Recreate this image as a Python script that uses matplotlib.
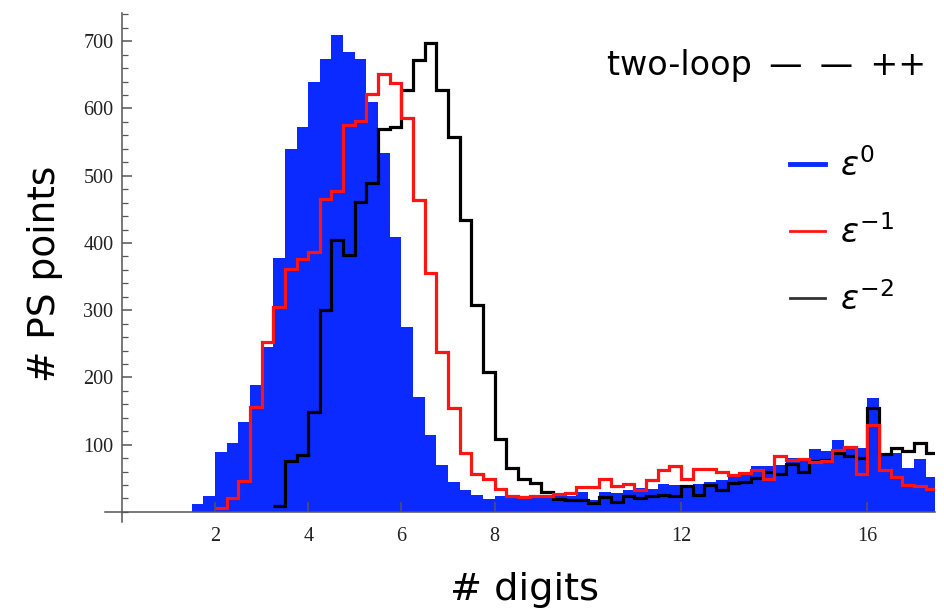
import numpy as np
import matplotlib.pyplot as plt
from matplotlib.lines import Line2D
from matplotlib.ticker import FixedLocator, MultipleLocator

# histogram bins: 0.25 digits wide, starting at 1.5
bin_start = 1.5
bin_width = 0.25

# counts per bin (epsilon^0, filled)
eps0 = [12, 24, 89, 103, 133, 189, 246, 378, 540, 573,
        640, 674, 709, 684, 674, 610, 534, 409, 275, 171,
        114, 70, 44, 32, 25, 19, 23, 20, 19, 20,
        23, 25, 23, 30, 18, 30, 28, 33, 35, 34,
        42, 40, 40, 42, 44, 48, 52, 60, 68, 68,
        70, 80, 80, 93, 90, 107, 97, 95, 169, 85,
        87, 66, 78, 52]

# epsilon^-1 (red outline)
eps_m1 = [0, 0, 6, 20, 46, 156, 252, 305, 362, 376,
          387, 466, 478, 575, 581, 622, 651, 638, 586, 464,
          355, 238, 155, 88, 56, 49, 34, 24, 22, 24,
          24, 27, 28, 37, 37, 49, 38, 41, 33, 48,
          63, 68, 49, 64, 64, 59, 55, 58, 62, 49,
          83, 77, 78, 74, 76, 92, 97, 56, 129, 62,
          52, 40, 38, 34]

# epsilon^-2 (black outline)
eps_m2 = [0, 0, 0, 0, 0, 0, 0, 9, 75, 84,
          148, 300, 404, 382, 461, 489, 570, 573, 627, 672,
          697, 628, 558, 434, 308, 208, 109, 65, 49, 43,
          29, 19, 18, 18, 14, 22, 15, 24, 20, 23,
          25, 24, 39, 25, 40, 33, 43, 45, 50, 60,
          57, 72, 60, 75, 77, 87, 83, 80, 154, 86,
          95, 90, 102, 87]

x_ticks = [2, 4, 6, 8, 12, 16]
y_ticks = [100, 200, 300, 400, 500, 600, 700]

blue = '#0a2aff'
red = '#ff1414'
axis_gray = '#555555'

edges = bin_start + bin_width * np.arange(len(eps0) + 1)

plt.rcParams['mathtext.fontset'] = 'dejavusans'

fig = plt.figure(figsize=(9.44, 6.11), dpi=100)
ax = fig.add_axes([105 / 944, 1 - 522 / 611, 830 / 944, 509 / 611])

ax.stairs(eps0, edges, fill=True, color=blue, lw=0)


def first_bin(vals):
    return next(i for i, v in enumerate(vals) if v > 0)


i2 = first_bin(eps_m2)
ax.stairs(eps_m2[i2:], edges[i2:], baseline=None, color='black', lw=2.3)
i1 = first_bin(eps_m1)
ax.stairs(eps_m1[i1:], edges[i1:], baseline=None, color=red, lw=2.3)

ax.set_xlim(-0.36, 17.45)
ax.set_ylim(-15, 742)

for s in ['top', 'right']:
    ax.spines[s].set_visible(False)
ax.spines['left'].set_position(('data', 0))
ax.spines['bottom'].set_position(('data', 0))
for s in ['left', 'bottom']:
    ax.spines[s].set_color(axis_gray)
    ax.spines[s].set_linewidth(1.1)

ax.xaxis.set_major_locator(FixedLocator(x_ticks))
ax.yaxis.set_major_locator(FixedLocator(y_ticks))
ax.yaxis.set_minor_locator(MultipleLocator(20))
ax.tick_params(axis='both', which='major', direction='in', length=7,
               width=1.1, color=axis_gray, labelcolor='#222222')
ax.tick_params(axis='y', which='minor', direction='in', length=4,
               width=0.9, color=axis_gray)
ax.tick_params(axis='y', pad=6)
ax.tick_params(axis='x', pad=11)
for lab in ax.get_xticklabels() + ax.get_yticklabels():
    lab.set_family('Liberation Serif')
    lab.set_fontsize(14.5)

fig.text(45 / 944, 1 - 274 / 611, '# PS points', rotation=90,
         ha='center', va='center', fontsize=27, family='DejaVu Sans')
fig.text(524 / 944, 1 - 600 / 611, '# digits',
         ha='center', va='baseline', fontsize=27.5, family='DejaVu Sans')

fig.text(607 / 944, 1 - 65 / 611,
         'two-loop \u2009\u2014 \u2009\u2014 \u2009++',
         ha='left', va='center', fontsize=24, family='DejaVu Sans')

handles = [Line2D([], [], color=blue, lw=3.5),
           Line2D([], [], color=red, lw=2),
           Line2D([], [], color='#333333', lw=2)]
labels = [r'$\epsilon^{0}$', r'$\epsilon^{-1}$', r'$\epsilon^{-2}$']
ax.legend(handles, labels, loc='upper left', frameon=False,
          bbox_to_anchor=(790 / 944, 1 - 148 / 611),
          bbox_transform=fig.transFigure, fontsize=24,
          borderpad=0, borderaxespad=0,
          handlelength=1.05, handletextpad=0.45, labelspacing=0.97)

fig.savefig('out.png', dpi=100)
